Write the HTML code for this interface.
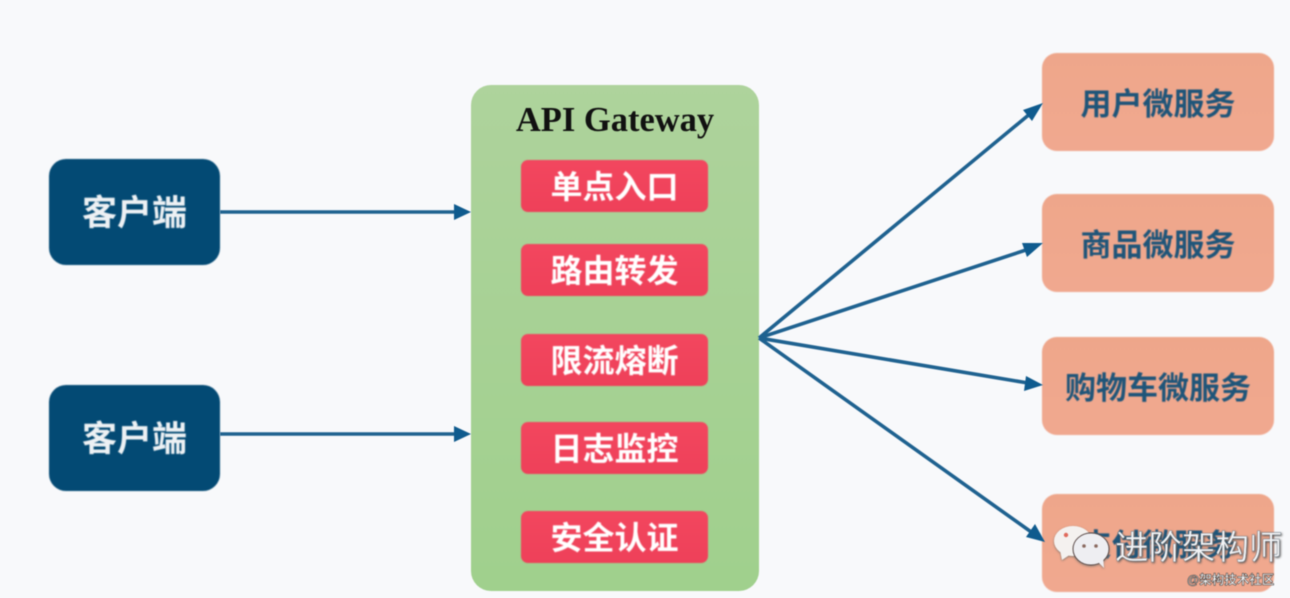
<!DOCTYPE html>
<html lang="zh">
<head>
<meta charset="utf-8">
<style>
html,body{margin:0;padding:0}
body{width:1290px;height:598px;overflow:hidden;background:#f8f9fb;position:relative;font-family:"Liberation Sans","Noto Sans CJK SC",sans-serif}
.b{position:absolute;display:flex;align-items:center;justify-content:center;box-sizing:border-box;white-space:nowrap;font-weight:700;filter:blur(.7px)}
.c{left:49px;width:171px;height:106px;padding-bottom:4px;background:#034a74;border-radius:17px;color:#edf1f4;font-size:35px}
.r{left:521px;width:187px;height:52px;padding-bottom:2px;background:linear-gradient(#f2465e,#ee4059);border-radius:7px;color:#fff;font-size:32px}
.s{left:1042px;width:232px;height:98px;padding-bottom:1px;background:linear-gradient(#eea68a,#f0a88f);border-radius:15px;color:#1f5579;font-size:31px}
#g{position:absolute;left:471px;top:85px;width:288px;height:506px;background:linear-gradient(#aed39c,#a0d08d);border-radius:20px;filter:blur(.4px)}
#t{position:absolute;left:471px;top:101px;width:288px;text-align:center;font:700 34.5px "Liberation Serif",serif;color:#111;white-space:nowrap;filter:blur(.6px)}
svg{position:absolute;left:0;top:0}
</style>
</head>
<body>
<div id="g"></div>
<div id="t">API Gateway</div>

<div class="b c" style="top:159px">客户端</div>
<div class="b c" style="top:385px">客户端</div>

<div class="b r" style="top:160px">单点入口</div>
<div class="b r" style="top:244px">路由转发</div>
<div class="b r" style="top:334px">限流熔断</div>
<div class="b r" style="top:422px">日志监控</div>
<div class="b r" style="top:511px">安全认证</div>

<div class="b s" style="top:53px">用户微服务</div>
<div class="b s" style="top:194px">商品微服务</div>
<div class="b s" style="top:337px">购物车微服务</div>
<div class="b s" style="top:494px">支付微服务</div>

<svg width="1290" height="598" viewBox="0 0 1290 598" style="filter:blur(.4px)">
  <g stroke="#1f6290" stroke-width="3.6" fill="none">
    <line x1="220" y1="212" x2="456" y2="212"/>
    <line x1="220" y1="434" x2="456" y2="434"/>
    <line x1="759" y1="338" x2="1031" y2="113"/>
    <line x1="759" y1="338" x2="1029" y2="249"/>
    <line x1="759" y1="338" x2="1028" y2="383"/>
    <line x1="759" y1="338" x2="1034" y2="534"/>
  </g>
  <g fill="#0f5b8e">
    <polygon points="471,212 454,204 454,220"/>
    <polygon points="471,434 454,426 454,442"/>
    <polygon points="1043,103 1032,121 1023,110"/>
    <polygon points="1043,243 1027,257 1022,243"/>
    <polygon points="1043,385 1024,391 1026,376"/>
    <polygon points="1045,542 1026,537 1035,524"/>
  </g>
  <!-- watermark icon -->
  <g style="filter:drop-shadow(0 1px 1px #8a7a70)">
    <ellipse cx="1073" cy="541" rx="19" ry="15" fill="#f4f1ef"/>
    <polygon points="1060,550 1062,560 1071,554" fill="#f4f1ef"/>
    <circle cx="1066" cy="535" r="2.2" fill="#e06a5c"/>
    <ellipse cx="1091" cy="549" rx="18" ry="16" fill="#eeeef2" stroke="#5a4a48" stroke-width="1"/>
    <polygon points="1097,561 1104,568 1103,556" fill="#eeeef2"/>
    <circle cx="1084" cy="546" r="1.8" fill="#8a6a60"/>
    <circle cx="1096" cy="546" r="1.8" fill="#8a6a60"/>
  </g>
  <text x="1115" y="559" font-family="'Liberation Sans','Noto Sans CJK SC',sans-serif" font-size="33.5" fill="#f2f3f5" stroke="#6b7a86" stroke-width=".4" style="filter:drop-shadow(1px 1px 1px #555)">进阶架构师</text>
  <text x="1187" y="584" font-family="'Liberation Sans','Noto Sans CJK SC',sans-serif" font-size="12.5" font-weight="700" fill="#f4f4f4" stroke="#333" stroke-width=".5">@架构技术社区</text>
</svg>
</body>
</html>
